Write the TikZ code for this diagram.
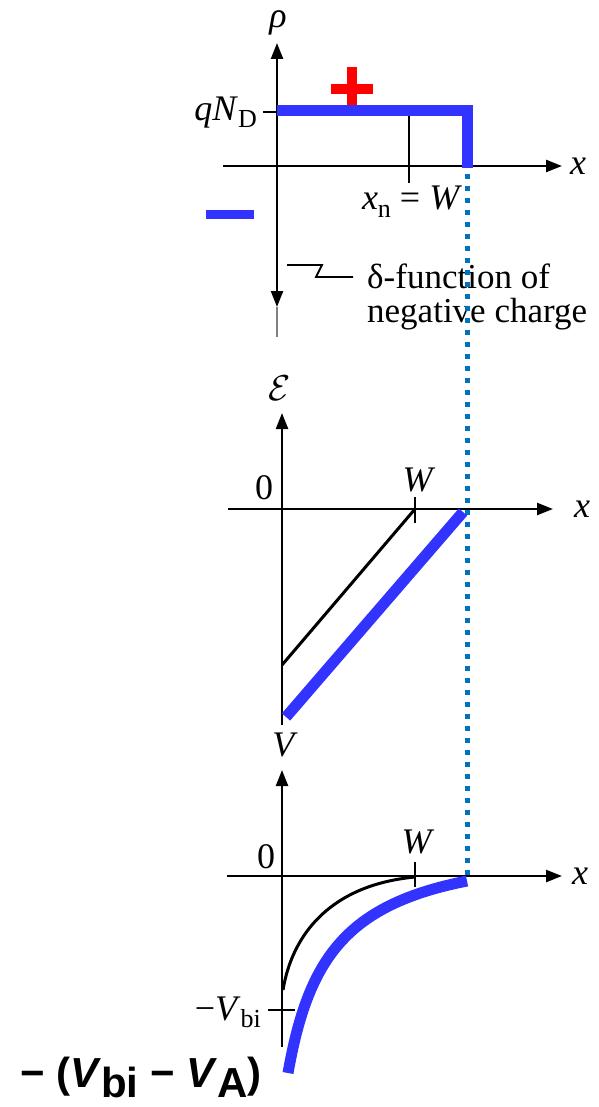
\documentclass[tikz,border=0pt]{standalone}
\usepackage{fix-cm}
\usepackage{fontspec}
\setmainfont{Liberation Serif}
\setsansfont{Liberation Sans}
\usetikzlibrary{arrows.meta}
\definecolor{myblue}{RGB}{51,51,255}
\definecolor{dotblue}{RGB}{0,112,192}
\definecolor{myred}{RGB}{255,0,0}
\begin{document}
\begin{tikzpicture}[x=1pt,y=-1pt,
  axis/.style={line width=2.4pt, -{Triangle[length=16pt,width=12pt]}},
  plain/.style={line width=2.4pt},
  lab/.style={inner sep=0pt, font=\fontsize{36}{36}\selectfont},
  note/.style={inner sep=0pt, font=\fontsize{35}{35}\selectfont},
  bluethick/.style={draw=myblue, line width=11pt},
  curve/.style={line width=3pt},
  dotline/.style={draw=dotblue, line width=5pt, dash pattern=on 5pt off 7pt}
]
\useasboundingbox (0,0) rectangle (598,1107);

% ---------- top plot: charge density ----------
\coordinate (o1) at (277,166);
\coordinate (y1t) at (277,43);
\coordinate (y1b) at (277,307);
\coordinate (y1e) at (277,337);
\coordinate (x1l) at (223,166);
\coordinate (x1r) at (562,166);
\draw[axis] (x1l) -- (x1r);
\draw[axis] (o1) -- (y1t);
\draw[axis] (o1) -- (y1b);
\draw[plain, gray] (y1b) -- (y1e);
\coordinate (qt1) at (263,112);
\coordinate (qt2) at (277,112);
\draw[plain] (qt1) -- (qt2);
\coordinate (xn1) at (409,111);
\coordinate (xn2) at (409,183);
\draw[plain] (xn1) -- (xn2);
\coordinate (b1) at (277,111);
\coordinate (b2) at (467.5,111);
\coordinate (b3) at (467.5,168);
\draw[bluethick, line join=miter] (b1) -- (b2) -- (b3);
\fill[myred] (331,84) rectangle (373,94);
\fill[myred] (347,67) rectangle (357,105);
\fill[myblue] (206,210) rectangle (254,219);

\node[lab] (rho) at (278,23) {\textit{ρ}};
\node[lab, anchor=east] (qnd) at (257,113) {\textit{qN}\raisebox{-7pt}{\fontsize{26}{26}\selectfont D}};
\node[lab] (x1) at (578,166) {\textit{x}};
\node[lab] (xnw) at (412,202) {\textit{x}\raisebox{-8pt}{\fontsize{26}{26}\selectfont n} = \textit{W}};

\node[note, anchor=base west] (d1) at (367,288) {δ-function of};
\node[note, anchor=base west] (d2) at (367,322) {negative charge};
\coordinate (la) at (287,265);
\coordinate (lb) at (322,265);
\coordinate (lc) at (316,277);
\coordinate (ld) at (353,277);
\draw[line width=1.8pt] (la) -- (lb) -- (lc) -- (ld);

% ---------- dotted guide ----------
\coordinate (g1) at (467.5,174);
\coordinate (g2) at (467.5,876);
\draw[dotline] (g1) -- (g2);

% ---------- middle plot: field ----------
\coordinate (x2l) at (228,509);
\coordinate (x2r) at (553,509);
\coordinate (y2b) at (282,725);
\coordinate (y2t) at (282,413);
\draw[axis] (x2l) -- (x2r);
\draw[axis] (y2b) -- (y2t);
\coordinate (e0) at (282,665);
\coordinate (eW) at (415,509);
\draw[curve] (e0) -- (eW);
\coordinate (wt1) at (415,497);
\coordinate (wt2) at (415,523);
\draw[plain] (wt1) -- (wt2);
\coordinate (eb0) at (286,717);
\coordinate (ebW) at (463,512);
\draw[bluethick] (eb0) -- (ebW);
\node[lab] (ef) at (280,388) {$\mathcal{E}$};
\node[lab] (z2) at (264,488) {0};
\node[lab] (w2) at (419,480) {\textit{W}};
\node[lab] (x2) at (582,509) {\textit{x}};

% ---------- bottom plot: potential ----------
\coordinate (x3l) at (227,876);
\coordinate (x3r) at (562,876);
\coordinate (y3b) at (282,1047);
\coordinate (y3t) at (282,770);
\draw[axis] (x3l) -- (x3r);
\draw[axis] (y3b) -- (y3t);
\coordinate (wt3) at (415,862);
\coordinate (wt4) at (415,887);
\draw[plain] (wt3) -- (wt4);
\coordinate (vt1) at (268,1010);
\coordinate (vt2) at (295,1010);
\draw[plain] (vt1) -- (vt2);
\coordinate (v0) at (283,990);
\coordinate (vW) at (415,877);
\draw[curve] (v0) .. controls (292,935) and (330,885) .. (vW);
\coordinate (vb0) at (288,1073);
\coordinate (vbW) at (467,881);
\draw[bluethick] (vb0) .. controls (308,960) and (345,905) .. (vbW);
\node[lab] (vv) at (285,745) {\textit{V}};
\node[lab] (z3) at (266,857) {0};
\node[lab] (w3) at (418,842) {\textit{W}};
\node[lab] (x3) at (580,876) {\textit{x}};
\node[lab, anchor=east] (vbi) at (261,1012) {−\textit{V}\raisebox{-7pt}{\fontsize{26}{26}\selectfont bi}};
\node[anchor=base west, inner sep=0pt, font=\sffamily\bfseries\fontsize{42}{42}\selectfont] (vlab) at (20,1087)
  {− (\textit{V}\raisebox{-10pt}{bi} − \textit{V}\raisebox{-10pt}{A})};
\end{tikzpicture}
\end{document}
